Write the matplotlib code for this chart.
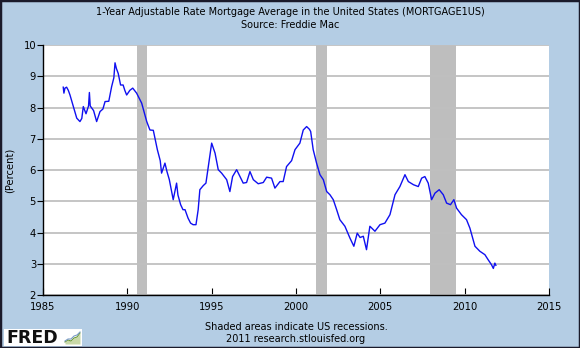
import matplotlib
matplotlib.use("Agg")
import matplotlib.pyplot as plt
from matplotlib.patches import Rectangle

# 1-Year ARM average (percent), decimal year vs rate
years = [1986.20, 1986.24, 1986.30, 1986.40, 1986.50, 1986.60, 1986.80, 1987.00, 1987.19,
         1987.30, 1987.39, 1987.55, 1987.70, 1987.75, 1987.80, 1987.89, 1988.00, 1988.18,
         1988.38, 1988.55, 1988.68, 1988.90, 1989.07, 1989.20, 1989.27, 1989.35, 1989.46,
         1989.60, 1989.75, 1989.85, 1989.96, 1990.15, 1990.32, 1990.55, 1990.70, 1990.85,
         1991.00, 1991.15, 1991.34, 1991.54, 1991.78, 1991.95, 1992.03, 1992.23, 1992.35,
         1992.49, 1992.72, 1992.92, 1993.00, 1993.16, 1993.30, 1993.42, 1993.60, 1993.75,
         1993.90, 1994.07, 1994.20, 1994.30, 1994.50, 1994.66, 1994.80, 1995.00, 1995.20,
         1995.39, 1995.59, 1995.89, 1996.08, 1996.24, 1996.48, 1996.67, 1996.87, 1997.07,
         1997.27, 1997.47, 1997.76, 1998.06, 1998.26, 1998.55, 1998.75, 1999.05, 1999.24,
         1999.44, 1999.74, 1999.94, 2000.23, 2000.43, 2000.63, 2000.80, 2000.87, 2001.02,
         2001.22, 2001.42, 2001.62, 2001.82, 2002.01, 2002.21, 2002.41, 2002.60, 2002.90,
         2003.20, 2003.43, 2003.63, 2003.80, 2003.99, 2004.18, 2004.38, 2004.68, 2004.98,
         2005.27, 2005.57, 2005.87, 2006.16, 2006.46, 2006.66, 2006.96, 2007.25, 2007.45,
         2007.64, 2007.84, 2008.04, 2008.24, 2008.49, 2008.73, 2008.93, 2009.16, 2009.36,
         2009.52, 2009.81, 2010.11, 2010.31, 2010.61, 2010.90, 2011.20, 2011.39, 2011.59,
         2011.70, 2011.79, 2011.85]
rates = [8.65, 8.46, 8.62, 8.65, 8.55, 8.40, 8.03, 7.66, 7.55,
         7.65, 8.03, 7.80, 8.05, 8.48, 8.05, 7.98, 7.90, 7.55,
         7.87, 7.95, 8.19, 8.20, 8.67, 8.95, 9.43, 9.25, 9.09,
         8.72, 8.72, 8.55, 8.40, 8.55, 8.62, 8.46, 8.30, 8.14,
         7.85, 7.55, 7.28, 7.27, 6.65, 6.30, 5.90, 6.22, 5.95,
         5.69, 5.05, 5.58, 5.20, 4.89, 4.73, 4.73, 4.46, 4.30,
         4.25, 4.25, 4.73, 5.37, 5.50, 5.58, 6.11, 6.86, 6.54,
         6.01, 5.90, 5.69, 5.31, 5.79, 6.01, 5.80, 5.58, 5.60,
         5.95, 5.69, 5.56, 5.60, 5.77, 5.74, 5.42, 5.63, 5.63,
         6.11, 6.30, 6.65, 6.86, 7.28, 7.39, 7.30, 7.23, 6.65,
         6.22, 5.85, 5.69, 5.31, 5.21, 5.05, 4.73, 4.41, 4.20,
         3.82, 3.56, 3.98, 3.84, 3.88, 3.45, 4.20, 4.04, 4.25,
         4.30, 4.57, 5.21, 5.47, 5.85, 5.63, 5.53, 5.47, 5.74,
         5.79, 5.58, 5.05, 5.26, 5.37, 5.21, 4.94, 4.89, 5.05,
         4.78, 4.57, 4.41, 4.14, 3.56, 3.40, 3.29, 3.13, 2.97,
         2.85, 3.02, 2.95]

# US recessions (start, end)
recessions = [(1990.58, 1991.17), (2001.17, 2001.83), (2007.92, 2009.50)]

x_ticks = [1985, 1990, 1995, 2000, 2005, 2010, 2015]
y_ticks = [2, 3, 4, 5, 6, 7, 8, 9, 10]

bg = "#B4CDE4"
fig = plt.figure(figsize=(5.8, 3.48), dpi=100, facecolor=bg)
fig.patches.append(Rectangle((0, 0), 1, 1, transform=fig.transFigure, fill=False,
                             edgecolor="#1a1a2a", linewidth=2.5, zorder=10))

ax = fig.add_axes([43 / 580, 1 - 295 / 348, (549 - 43) / 580, (295 - 45) / 348])
ax.set_facecolor("white")

for s, e in recessions:
    ax.axvspan(s, e, color="#BEBEBE", linewidth=0, zorder=1)

ax.plot(years, rates, color="#1010F0", linewidth=1.0, zorder=3)

ax.set_xlim(1985, 2015)
ax.set_ylim(2, 10)
ax.set_xticks(x_ticks)
ax.set_yticks(y_ticks)
ax.grid(axis="y", color="#C0C0C0", linewidth=1.3, zorder=2)
ax.set_axisbelow(False)

for side in ("top", "right"):
    ax.spines[side].set_visible(False)
for side in ("left", "bottom"):
    ax.spines[side].set_color("black")
    ax.spines[side].set_linewidth(1.0)
    ax.spines[side].set_zorder(4)

ax.tick_params(axis="x", direction="in", length=5, width=0.8, labelsize=7.2, pad=5)
ax.tick_params(axis="y", direction="out", length=4, width=0.8, labelsize=7.2, pad=1)
ax.set_ylabel("(Percent)", fontsize=7.2)
ax.yaxis.set_label_coords(-28 / 506, 0.5)

fig.text(0.5, 1 - 12 / 348, "1-Year Adjustable Rate Mortgage Average in the United States (MORTGAGE1US)",
         ha="center", va="center", fontsize=7)
fig.text(0.5, 1 - 24.5 / 348, "Source: Freddie Mac", ha="center", va="center", fontsize=7)

fig.text(296 / 580, 1 - 327 / 348, "Shaded areas indicate US recessions.",
         ha="center", va="center", fontsize=7)
fig.text(296 / 580, 1 - 339.5 / 348, "2011 research.stlouisfed.org",
         ha="center", va="center", fontsize=7)

# FRED logo
logo = fig.add_axes([4 / 580, 1 - 346 / 348, 78 / 580, 17 / 348])
logo.set_xlim(0, 78)
logo.set_ylim(0, 17)
logo.set_facecolor("white")
logo.set_xticks([])
logo.set_yticks([])
for sp in logo.spines.values():
    sp.set_visible(False)
logo.text(2, 8.3, "FRED", fontsize=12.5, fontweight="bold", color="#111111",
          ha="left", va="center", family="DejaVu Sans")
logo.fill_between([61, 64, 67, 70, 73, 76], [2, 2, 2, 2, 2, 2], [4, 6, 5, 8, 9, 13],
                  color="#C9D9A8", linewidth=0)
logo.plot([61, 64, 67, 70, 73, 76], [4, 6, 5, 8, 9, 13], color="#6D9B3A", linewidth=0.8)
logo.plot([61, 64, 67, 70, 73, 76], [5, 7, 7, 10, 11, 14], color="#7A9CC8", linewidth=0.8)

fig.savefig("out.png", dpi=100, facecolor=bg)
